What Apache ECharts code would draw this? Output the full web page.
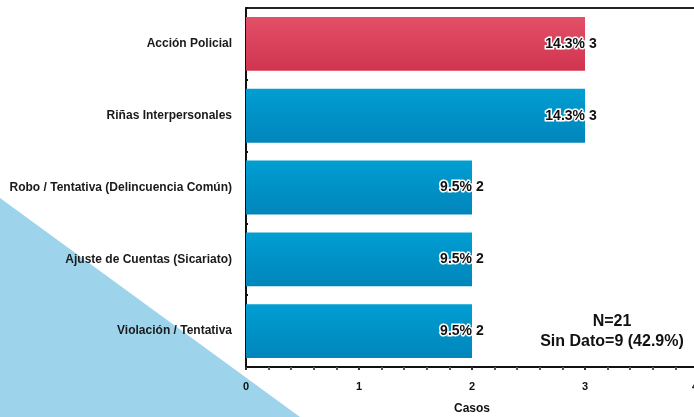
<!DOCTYPE html>
<html><head><meta charset="utf-8">
<script src="https://cdn.jsdelivr.net/npm/echarts@6/dist/echarts.min.js"></script>
<style>html,body{margin:0;padding:0;background:#fff}#c{width:694px;height:417px}</style>
</head><body><div id="c"></div>
<script>
const categories = ['Acción Policial','Riñas Interpersonales','Robo / Tentativa (Delincuencia Común)','Ajuste de Cuentas (Sicariato)','Violación / Tentativa'];
const values = [3,3,2,2,2];
const percents = ['14.3%','14.3%','9.5%','9.5%','9.5%'];
const xTicks = [0,1,2,3,4];
const noteLines = ['N=21','Sin Dato=9 (42.9%)'];

const FONT = "'Liberation Sans',Arial,sans-serif";
const red = new echarts.graphic.LinearGradient(0,0,0,1,[{offset:0,color:'#e24f67'},{offset:1,color:'#d1344f'}]);
const blue = new echarts.graphic.LinearGradient(0,0,0,1,[{offset:0,color:'#009ed2'},{offset:1,color:'#0086bb'}]);

const chart = echarts.init(document.getElementById('c'));
chart.setOption({
  animation:false,
  backgroundColor:'#fff',
  graphic:[
    {type:'polygon', z:-10, silent:true, shape:{points:[[0,198],[300,417],[0,417]]}, style:{fill:'#9dd4ec'}},
    {type:'text', left:612-90, top:312, z:10, style:{text:noteLines.join('\n'), width:180, align:'center', textAlign:'center', x:90, font:"bold 16px "+FONT, fill:'#111', lineHeight:20}}
  ],
  grid:{left:246, top:8, width:452, height:359, containLabel:false, outerBoundsMode:'none'},
  xAxis:[{
    type:'value', min:0, max:4, interval:1,
    name:'Casos', nameLocation:'middle', nameGap:36,
    nameTextStyle:{fontFamily:FONT, fontWeight:'bold', fontSize:12, color:'#111'},
    axisLine:{show:true, lineStyle:{color:'#111', width:2}},
    axisTick:{show:true, length:3, lineStyle:{color:'#333', width:2}},
    minorTick:{show:true, splitNumber:5, length:3, lineStyle:{color:'#555', width:2}},
    splitLine:{show:false},
    axisLabel:{margin:14, fontFamily:FONT, fontWeight:'bold', fontSize:11, color:'#111',
      showMaxLabel:true, showMinLabel:true, hideOverlap:false, alignMaxLabel:'right',
      formatter:v=>xTicks.includes(v)?String(v):''}
  },{
    type:'value', min:0, max:4, position:'top',
    axisLine:{show:true, lineStyle:{color:'#222', width:2}},
    axisTick:{show:false}, axisLabel:{show:false}, splitLine:{show:false}
  }],
  yAxis:{
    type:'category', data:categories, inverse:true,
    axisLine:{show:true, lineStyle:{color:'#111', width:2}},
    axisTick:{show:true, inside:true, length:2, lineStyle:{color:'#111', width:2}},
    axisLabel:{margin:14, fontFamily:FONT, fontWeight:'bold', fontSize:12, color:'#1a1a1a'}
  },
  series:[{
    type:'bar', barCategoryGap:'25%', z:2,
    data:values.map((v,i)=>({value:v, itemStyle:{color:i===0?red:blue}})),
    label:{show:true, position:'right', distance:4, fontFamily:FONT, fontWeight:'bold', fontSize:14, color:'#111'}
  },{
    type:'bar', barCategoryGap:'25%', barGap:'-100%', z:3, silent:true,
    data:values, itemStyle:{color:'rgba(0,0,0,0)'},
    label:{show:true, position:'insideRight', distance:0, fontFamily:FONT, fontWeight:'bold', fontSize:14, color:'#111',
      textBorderColor:'#fff', textBorderWidth:3,
      formatter:p=>percents[p.dataIndex]}
  }]
});
</script></body></html>
